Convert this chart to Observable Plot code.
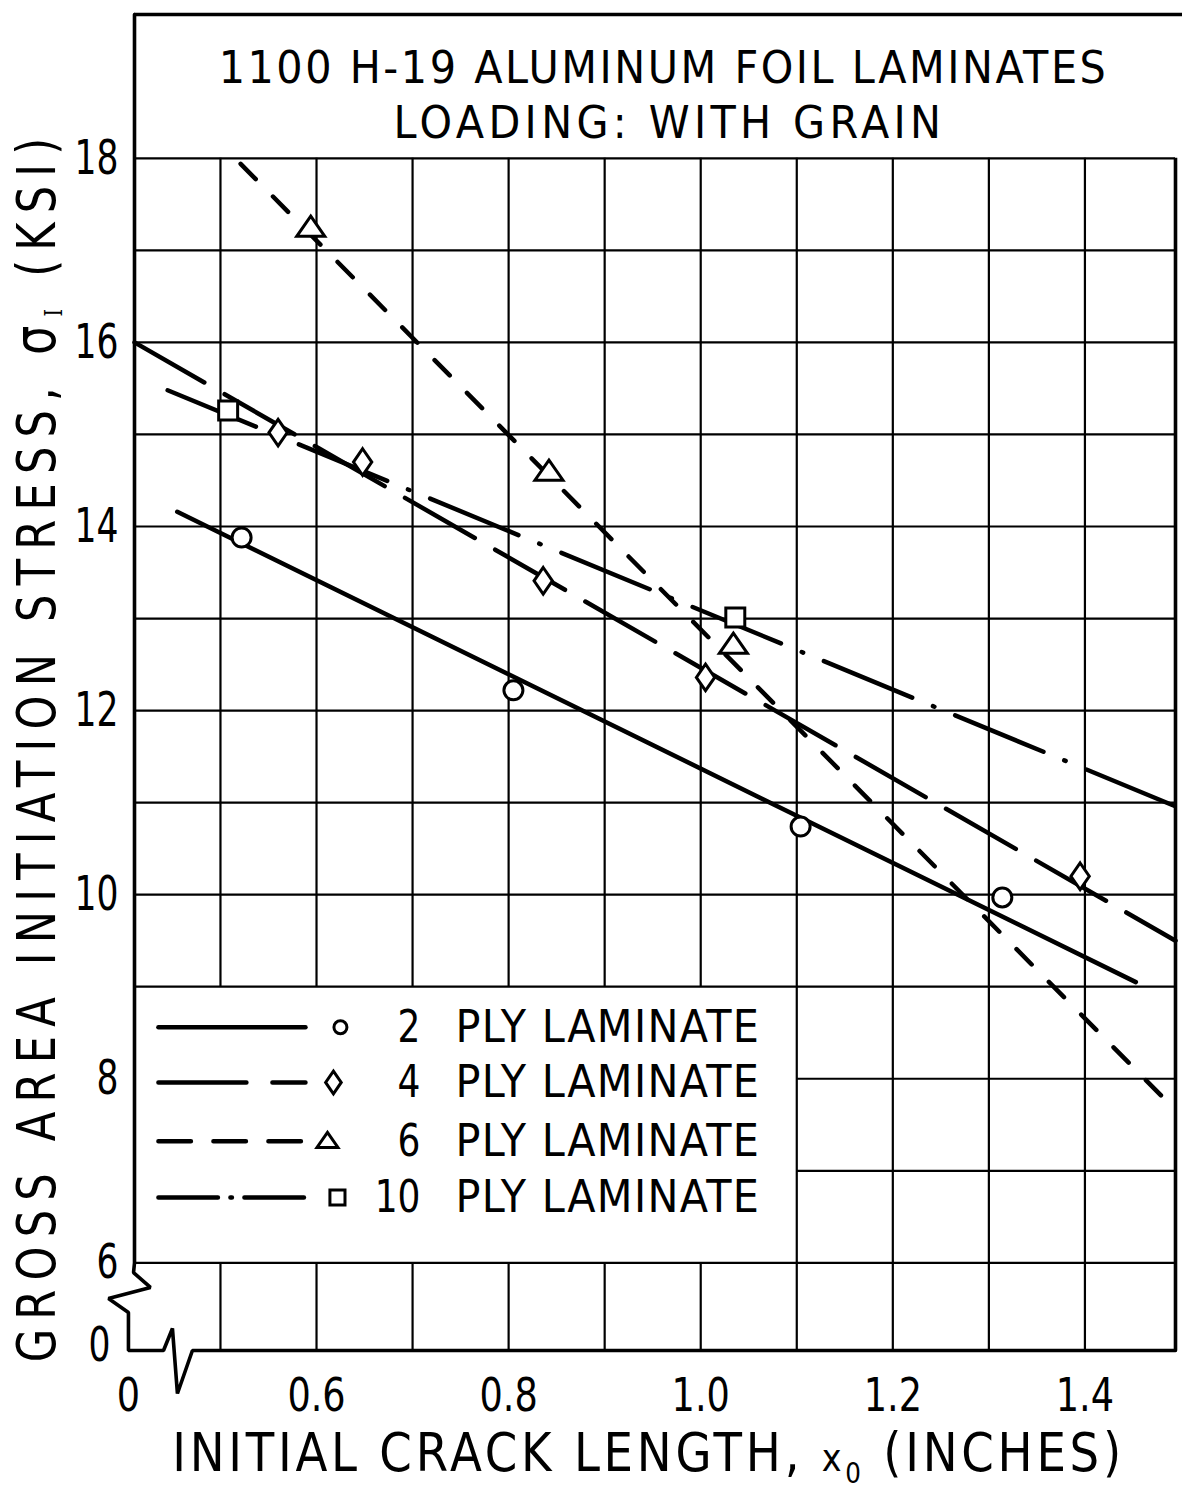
<!DOCTYPE html>
<html>
<head>
<meta charset="utf-8">
<script src="https://cdn.jsdelivr.net/npm/d3@7"></script>
<script src="https://cdn.jsdelivr.net/npm/@observablehq/plot@0.6"></script>
<style>
  html, body { margin: 0; padding: 0; background: #fff; }
  #chart svg { display: block; }
</style>
</head>
<body>
<div id="chart"></div>
<script>
// Gross-area initiation stress (ksi) vs. initial crack length (in),
// 1100 H-19 aluminum foil laminates loaded with the grain.

// Measured points, one pair of arrays per laminate
const crack2 = [0.522, 0.805, 1.104, 1.314];
const stress2 = [13.88, 12.22, 10.74, 9.97];
const crack4 = [0.560, 0.648, 0.836, 1.005, 1.395];
const stress4 = [15.02, 14.70, 13.41, 12.36, 10.20];
const crack6 = [0.594, 0.842, 1.034];
const stress6 = [17.24, 14.59, 12.71];
const crack10 = [0.508, 1.036];
const stress10 = [15.26, 13.01];

// Faired lines through each laminate's points (end points)
const fairX2 = [0.455, 1.453], fairY2 = [14.16, 9.05];
const fairX4 = [0.4105, 1.4943], fairY4 = [16.0, 9.50];
const fairX6 = [0.521, 1.4943], fairY6 = [17.94, 7.66];
const fairX10 = [0.445, 1.4943], fairY10 = [15.48, 10.96];

const plyCounts = [2, 4, 6, 10];
const xTickValues = [0.6, 0.8, 1.0, 1.2, 1.4];
const yTickValues = [6, 8, 10, 12, 14, 16, 18];
const gridX = [0.5, 0.6, 0.7, 0.8, 0.9, 1.0, 1.1, 1.2, 1.3, 1.4];
const gridY = [6, 7, 8, 9, 10, 11, 12, 13, 14, 15, 16, 17, 18];
const breakLabel = "0";

// ---------------------------------------------------------------------------
const FONT = "DejaVu Sans, Verdana, sans-serif";
const W = 1182, H = 1489;
const M = {top: 14, right: 7, bottom: 139, left: 134};
// plotting frame (axes are broken below 6 ksi and left of 0.5 in)
const X_LO = 0.4105, X_HI = 1.4943, X_EDGE = 1.5016;
const Y_LO = 5.048, Y_HI = 19.562;
// legend occupies the grid cells left of 1.1 in, between 6 and 9 ksi
const LEG = {right: 1.1, bottom: 6, top: 9,
  x1: 0.4354, x2: 0.5885, numX: 0.7082, textX: 0.7447,
  rows: [8.56, 7.96, 7.32, 6.71]};

// custom marker outlines
const tallDiamond = {draw(ctx, size) {
  const w = Math.sqrt(size / 0.725), h = 1.45 * w;
  ctx.moveTo(0, -h / 2); ctx.lineTo(w / 2, 0); ctx.lineTo(0, h / 2); ctx.lineTo(-w / 2, 0); ctx.closePath();
}};
const flatTriangle = {draw(ctx, size) {
  const w = Math.sqrt(size / 0.36), h = 0.72 * w;
  ctx.moveTo(0, -0.6 * h); ctx.lineTo(w / 2, 0.4 * h); ctx.lineTo(-w / 2, 0.4 * h); ctx.closePath();
}};

const series = [
  {ply: plyCounts[0], x: crack2, y: stress2, fx: fairX2, fy: fairY2, dash: null, legDash: null,
   symbol: "circle", r: 9.5, legR: 6.5},
  {ply: plyCounts[1], x: crack4, y: stress4, fx: fairX4, fy: fairY4, dash: "80.5,23.5", legDash: "88,26",
   symbol: tallDiamond, r: 8.8, legR: 7.5},
  {ply: plyCounts[2], x: crack6, y: stress6, fx: fairX6, fy: fairY6, dash: "21.5,24.5", legDash: "32.5,22.5",
   symbol: flatTriangle, r: 9.5, legR: 7.1},
  {ply: plyCounts[3], x: crack10, y: stress10, fx: fairX10, fy: fairY10, dash: "95.5,22.5,1.5,22.5", legDash: "59.5,12.5,1.5,12.5",
   symbol: "square", r: 10.7, legR: 8.5}
];
const legendMarkX = [0.6249, 0.6176, 0.6114, 0.6218];

// left and bottom edges with the axis-break zigzags
const frameEdge = [
  [X_LO, Y_HI], [X_LO, 6], [0.4095, 5.895], [0.4271, 5.733], [0.3834, 5.613],
  [0.4042, 5.461], [0.4042, Y_LO], [0.4407, Y_LO], [0.4500, 5.287], [0.4552, 4.581],
  [0.4708, Y_LO], [X_HI, Y_LO]
];

const ink = {stroke: "black"};
const grid = {...ink, strokeWidth: 2.2};
const frame = {...ink, strokeWidth: 3.6};

function frameText(text, px, py, opts) {
  return Plot.text([text], {text: d => d, frameAnchor: "top-left",
    dx: px - M.left, dy: py - M.top, fontFamily: FONT, fill: "black", ...opts});
}

const left = gridX.filter(x => x < LEG.right - 1e-9);
const right = gridX.filter(x => x >= LEG.right - 1e-9);

const marks = [
  // grid
  Plot.ruleX(right, {x: d => d, y1: Y_LO, y2: 18, ...grid}),
  Plot.ruleX(left, {x: d => d, y1: LEG.top, y2: 18, ...grid}),
  Plot.ruleX(left, {x: d => d, y1: Y_LO, y2: LEG.bottom, ...grid}),
  Plot.ruleY(gridY.filter(y => y > LEG.bottom && y < LEG.top), {y: d => d, x1: LEG.right, x2: X_HI, ...grid}),
  Plot.ruleY(gridY.filter(y => y <= LEG.bottom || y >= LEG.top), {y: d => d, x1: X_LO, x2: X_HI, ...grid}),
  // frame
  Plot.ruleY([Y_HI], {y: d => d, x1: X_LO, x2: X_EDGE, ...frame}),
  Plot.ruleX([X_HI], {x: d => d, y1: Y_LO, y2: 18, ...frame}),
  Plot.line(frameEdge, {x: d => d[0], y: d => d[1], ...frame, strokeLinejoin: "miter"}),
];

// faired lines and measured points
for (const s of series) {
  marks.push(Plot.line(s.fx.map((x, i) => ({x, y: s.fy[i]})), {
    x: "x", y: "y", ...ink, strokeWidth: 4.5, strokeLinecap: "round",
    strokeDasharray: s.dash ?? undefined
  }));
}
for (const s of series) {
  marks.push(Plot.dot(s.x.map((x, i) => ({x, y: s.y[i]})), {
    x: "x", y: "y", symbol: s.symbol, r: s.r, fill: "white", ...ink, strokeWidth: 3
  }));
}

// legend
series.forEach((s, i) => {
  const row = LEG.rows[i];
  marks.push(
    Plot.line([{x: LEG.x1, y: row}, {x: LEG.x2, y: row}], {x: "x", y: "y", ...ink,
      strokeWidth: 4.5, strokeLinecap: "round", strokeDasharray: s.legDash ?? undefined}),
    Plot.dot([{x: legendMarkX[i], y: row}], {x: "x", y: "y", symbol: s.symbol, r: s.legR,
      fill: "white", ...ink, strokeWidth: 3}),
    Plot.text([String(s.ply)], {x: LEG.numX, y: row, text: d => d, textAnchor: "end",
      lineAnchor: "middle", fontSize: 45, fontFamily: FONT, ariaDescription: "legend-num"}),
    Plot.text(["PLY LAMINATE"], {x: LEG.textX, y: row, text: d => d, textAnchor: "start",
      lineAnchor: "middle", fontSize: 45, fontFamily: FONT, ariaDescription: "legend-text"})
  );
});

// tick labels
marks.push(
  Plot.text(yTickValues, {x: X_LO, y: d => d, text: d => String(d), textAnchor: "end",
    lineAnchor: "middle", dx: -16, fontSize: 48, fontFamily: FONT, ariaDescription: "y-tick"}),
  Plot.text(xTickValues, {x: d => d, y: Y_LO, text: d => d.toFixed(1), textAnchor: "middle",
    lineAnchor: "top", dy: 27, fontSize: 47, fontFamily: FONT, ariaDescription: "x-tick"}),
  frameText(breakLabel, 110, 1345, {textAnchor: "end", lineAnchor: "middle", fontSize: 48, ariaDescription: "y-tick"}),
  frameText(breakLabel, 128, 1377, {textAnchor: "middle", lineAnchor: "top", fontSize: 47, ariaDescription: "x-tick"})
);

// titles and axis labels
marks.push(
  frameText("1100 H-19 ALUMINUM FOIL LAMINATES", 663, 82, {fontSize: 45, textAnchor: "middle", lineAnchor: "bottom", ariaDescription: "title-1"}),
  frameText("LOADING: WITH GRAIN", 669, 137, {fontSize: 45, textAnchor: "middle", lineAnchor: "bottom", ariaDescription: "title-2"}),
  frameText("GROSS AREA INITIATION STRESS, σI (KSI)", 54, 745, {fontSize: 54, rotate: -90, textAnchor: "middle", lineAnchor: "bottom", ariaDescription: "y-label"}),
  frameText("INITIAL CRACK LENGTH, x0 (INCHES)", 648, 1470, {fontSize: 53, textAnchor: "middle", lineAnchor: "bottom", ariaDescription: "x-label"})
);

const svg = Plot.plot({
  width: W, height: H,
  marginTop: M.top, marginRight: M.right, marginBottom: M.bottom, marginLeft: M.left,
  x: {domain: [X_LO, X_HI], axis: null},
  y: {domain: [Y_LO, Y_HI], axis: null},
  style: {background: "white", color: "black", fontFamily: FONT},
  marks
});
document.getElementById("chart").appendChild(svg);

// --- typographic finishing: subscripts, narrow lettering, letter spacing ---
const NS = "http://www.w3.org/2000/svg";
function texts(label) { return svg.querySelectorAll(`g[aria-description="${label}"] text`); }
function spans(t, parts) {
  t.textContent = "";
  for (const [s, attrs] of parts) {
    const ts = document.createElementNS(NS, "tspan");
    ts.textContent = s;
    for (const k in attrs || {}) ts.setAttribute(k, attrs[k]);
    t.appendChild(ts);
  }
}
texts("y-label").forEach(t => spans(t, [
  ["GROSS AREA INITIATION STRESS, "],
  ["σ", {"font-size": 58}],
  ["I", {"font-size": 24, "font-family": "DejaVu Serif, serif", dy: 7}],
  [" (KSI)", {dy: -7}]
]));
texts("x-label").forEach(t => spans(t, [
  ["INITIAL CRACK LENGTH, "],
  ["x", {"font-size": 38}],
  ["0", {"font-size": 28, dy: 12}],
  [" (INCHES)", {dy: -12}]
]));
function letter(label, k, target) {
  texts(label).forEach(t => {
    if (target != null) {
      const natural = t.getComputedTextLength();
      const n = t.textContent.length;
      t.style.letterSpacing = `${(target / k - natural) / n}px`;
    }
    if (k !== 1) t.setAttribute("transform", `${t.getAttribute("transform") || ""} scale(${k},1)`);
  });
}
letter("title-1", 0.92, 890);
letter("title-2", 0.92, 552);
letter("y-label", 0.8, 1234);
letter("x-label", 0.88, 953);
letter("legend-text", 0.92, 305);
letter("legend-num", 0.8, null);
letter("y-tick", 0.72, null);
letter("x-tick", 0.78, null);
</script>
</body>
</html>
